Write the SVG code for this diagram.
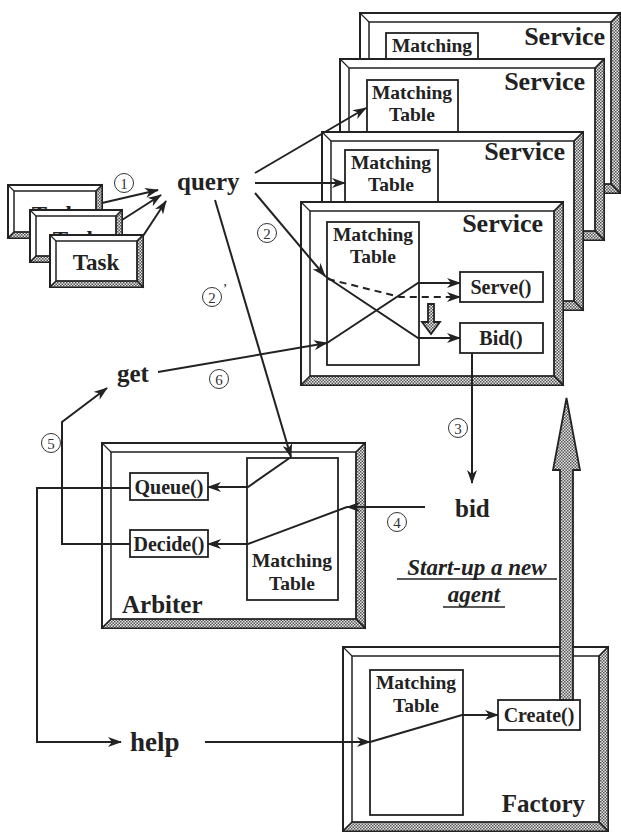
<svg xmlns="http://www.w3.org/2000/svg" width="621" height="832" viewBox="0 0 621 832">
<style>
.outer{fill:#fff;stroke:#222;stroke-width:2}
.band{fill:url(#hatch);stroke:#222;stroke-width:1.2}
.inner{fill:none;stroke:#222;stroke-width:1.5}
.bevel{fill:none;stroke:#222;stroke-width:1.2}
.box{fill:#fff;stroke:#222;stroke-width:1.8}
.t{font-family:"Liberation Serif","Times New Roman",serif;font-weight:bold;fill:#222}
.title{font-size:26px}
.mt{font-size:19.5px;text-anchor:middle}
.fn{font-size:20px;text-anchor:middle}
.ev{font-size:25px}
.conn{fill:none;stroke:#222;stroke-width:2}
.arr{marker-end:url(#ah)}
.dash{stroke-dasharray:7 5}
.num circle{fill:#fff;stroke:#333;stroke-width:1}
.num text{font-family:"Liberation Serif",serif;font-size:15px;fill:#333;text-anchor:middle}
.big{fill:url(#hatch);stroke:#222;stroke-width:1.8}
</style>
<defs>
<pattern id="hatch" width="3" height="3" patternUnits="userSpaceOnUse">
<rect width="3" height="3" fill="#e6e6e6"/>
<rect width="1.5" height="1.5" fill="#555"/>
<rect x="1.5" y="1.5" width="1.5" height="1.5" fill="#555"/>
</pattern>
<marker id="ah" viewBox="0 0 14 10" refX="13" refY="5" markerWidth="14" markerHeight="10" markerUnits="userSpaceOnUse" orient="auto">
<path d="M0,0 L14,5 L0,10 L4,5 z" fill="#222"/>
</marker>
</defs>
<rect width="621" height="832" fill="#fff"/>

<g id="service1">
<rect class="outer" x="360" y="13" width="260" height="180"/>
<polygon class="band" points="620,13 620,193 611,184 611,22"/>
<polygon class="band" points="360,193 620,193 611,184 369,184"/>
<rect class="inner" x="369" y="22" width="242" height="162"/>
<path class="bevel" d="M360,13L369,22M620,13L611,22M360,193L369,184M620,193L611,184"/>
<rect class="box" x="386" y="33" width="92" height="70"/>
<text class="t mt" x="432" y="52">Matching</text>
<text class="t title" x="605" y="45" text-anchor="end">Service</text>
</g>

<g id="service2">
<rect class="outer" x="340" y="59" width="264" height="181"/>
<polygon class="band" points="604,59 604,240 595,231 595,68"/>
<polygon class="band" points="340,240 604,240 595,231 349,231"/>
<rect class="inner" x="349" y="68" width="246" height="163"/>
<path class="bevel" d="M340,59L349,68M604,59L595,68M340,240L349,231M604,240L595,231"/>
<rect class="box" x="367" y="80" width="91" height="80"/>
<text class="t mt" x="412" y="99">Matching</text>
<text class="t mt" x="412" y="121">Table</text>
<text class="t title" x="585" y="90" text-anchor="end">Service</text>
</g>

<g id="service3">
<rect class="outer" x="322" y="132" width="261" height="178"/>
<polygon class="band" points="583,132 583,310 574,301 574,141"/>
<polygon class="band" points="322,310 583,310 574,301 331,301"/>
<rect class="inner" x="331" y="141" width="243" height="160"/>
<path class="bevel" d="M322,132L331,141M583,132L574,141M322,310L331,301M583,310L574,301"/>
<rect class="box" x="345" y="150" width="93" height="80"/>
<text class="t mt" x="391" y="169">Matching</text>
<text class="t mt" x="391" y="191">Table</text>
<text class="t title" x="565" y="160" text-anchor="end">Service</text>
</g>

<g id="service4">
<rect class="outer" x="301" y="202" width="262" height="183"/>
<polygon class="band" points="563,202 563,385 554,376 554,211"/>
<polygon class="band" points="301,385 563,385 554,376 310,376"/>
<rect class="inner" x="310" y="211" width="244" height="165"/>
<path class="bevel" d="M301,202L310,211M563,202L554,211M301,385L310,376M563,385L554,376"/>
<rect class="box" x="327" y="222" width="92" height="143"/>
<text class="t mt" x="373" y="241">Matching</text>
<text class="t mt" x="373" y="263">Table</text>
<text class="t title" x="543" y="232" text-anchor="end">Service</text>
<rect class="box" x="460" y="272" width="83" height="30"/>
<text class="t fn" x="501" y="294">Serve()</text>
<rect class="box" x="460" y="323" width="83" height="30"/>
<text class="t fn" x="501" y="345">Bid()</text>
<polygon class="big" points="428,304 434,304 434,322 440,322 431,334 422,322 428,322"/>
</g>

<g id="task1">
<rect class="outer" x="8" y="185" width="94" height="53"/>
<polygon class="band" points="102,185 102,238 96,232 96,191"/>
<polygon class="band" points="8,238 102,238 96,232 14,232"/>
<rect class="inner" x="14" y="191" width="82" height="41"/>
<path class="bevel" d="M8,185L14,191M102,185L96,191M8,238L14,232M102,238L96,232"/>
<text class="t" font-size="23" x="55" y="222" text-anchor="middle">Task</text>
</g>
<g id="task2">
<rect class="outer" x="30" y="210" width="92" height="52"/>
<polygon class="band" points="122,210 122,262 116,256 116,216"/>
<polygon class="band" points="30,262 122,262 116,256 36,256"/>
<rect class="inner" x="36" y="216" width="80" height="40"/>
<path class="bevel" d="M30,210L36,216M122,210L116,216M30,262L36,256M122,262L116,256"/>
<text class="t" font-size="23" x="76" y="247" text-anchor="middle">Task</text>
</g>
<g id="task3">
<rect class="outer" x="50" y="235" width="93" height="52"/>
<polygon class="band" points="143,235 143,287 137,281 137,241"/>
<polygon class="band" points="50,287 143,287 137,281 56,281"/>
<rect class="inner" x="56" y="241" width="81" height="40"/>
<path class="bevel" d="M50,235L56,241M143,235L137,241M50,287L56,281M143,287L137,281"/>
<text class="t" font-size="23" x="96" y="270" text-anchor="middle">Task</text>
</g>

<g id="arbiter">
<rect class="outer" x="102" y="443" width="263" height="185"/>
<polygon class="band" points="365,443 365,628 356,619 356,452"/>
<polygon class="band" points="102,628 365,628 356,619 111,619"/>
<rect class="inner" x="111" y="452" width="245" height="167"/>
<path class="bevel" d="M102,443L111,452M365,443L356,452M102,628L111,619M365,628L356,619"/>
<rect class="box" x="247" y="458" width="91" height="142"/>
<text class="t mt" x="292" y="567">Matching</text>
<text class="t mt" x="292" y="590">Table</text>
<rect class="box" x="130" y="473" width="78" height="27"/>
<text class="t fn" x="169" y="494">Queue()</text>
<rect class="box" x="130" y="530" width="78" height="27"/>
<text class="t fn" x="169" y="551">Decide()</text>
<text class="t" font-size="25" x="122" y="613">Arbiter</text>
</g>

<g id="factory">
<rect class="outer" x="343" y="647" width="265" height="184"/>
<polygon class="band" points="608,647 608,831 599,822 599,656"/>
<polygon class="band" points="343,831 608,831 599,822 352,822"/>
<rect class="inner" x="352" y="656" width="247" height="166"/>
<path class="bevel" d="M343,647L352,656M608,647L599,656M343,831L352,822M608,831L599,822"/>
<rect class="box" x="370" y="670" width="93" height="145"/>
<text class="t mt" x="416" y="689">Matching</text>
<text class="t mt" x="416" y="712">Table</text>
<rect class="box" x="498" y="700" width="82" height="30"/>
<text class="t fn" x="539" y="722">Create()</text>
<text class="t" font-size="25" x="585" y="812" text-anchor="end">Factory</text>
</g>

<g id="query"><text class="t ev" x="177" y="190">query</text></g>
<g id="get"><text class="t ev" x="117" y="382">get</text></g>
<g id="bid"><text class="t ev" x="455" y="517">bid</text></g>
<g id="help"><text class="t" font-size="27" x="130" y="751">help</text></g>
<g id="startup">
<text class="t" font-style="italic" font-size="23" x="477" y="575" text-anchor="middle">Start-up a new</text>
<line x1="397" y1="579" x2="557" y2="579" stroke="#222" stroke-width="1.3"/>
<text class="t" font-style="italic" font-size="23" x="474" y="602" text-anchor="middle">agent</text>
<line x1="443" y1="607" x2="505" y2="607" stroke="#222" stroke-width="1.3"/>
</g>

<g id="connectors">
<line class="conn arr" x1="102" y1="203" x2="158" y2="190"/>
<line class="conn arr" x1="122" y1="220" x2="161" y2="195"/>
<line class="conn arr" x1="143" y1="236" x2="166" y2="201"/>
<line class="conn arr" x1="255" y1="173" x2="366" y2="108"/>
<line class="conn arr" x1="255" y1="183" x2="345" y2="183"/>
<line class="conn arr" x1="255" y1="193" x2="325" y2="276"/>
<polyline class="conn arr" points="325,276 418,338 460,338"/>
<polyline class="conn dash arr" points="328,279 400,297 460,297"/>
<line class="conn arr" x1="158" y1="372" x2="327" y2="343"/>
<polyline class="conn arr" points="327,343 418,283 460,283"/>
<line class="conn arr" x1="215" y1="200" x2="291" y2="457"/>
<polyline class="conn arr" points="291,457 248,487 208,487"/>
<line class="conn arr" x1="472" y1="353" x2="472" y2="483"/>
<polyline class="conn arr" points="425,507 347,507"/>
<polyline class="conn arr" points="347,507 248,544 208,544"/>
<polyline class="conn arr" points="130,544 62,544 62,422 107,388"/>
<polyline class="conn arr" points="130,488 37,488 37,742 121,742"/>
<line class="conn arr" x1="205" y1="742" x2="370" y2="742"/>
<polyline class="conn arr" points="370,742 462,715 498,715"/>
<polygon class="big" points="560,700 560,470 553,470 566.5,398 580,470 573,470 573,700"/>
<g class="num">
<circle cx="124" cy="183" r="9.5"/><text x="124" y="188.5">1</text>
<circle cx="267" cy="233" r="9.5"/><text x="267" y="238.5">2</text>
<circle cx="212" cy="297" r="9.5"/><text x="212" y="302.5">2</text>
<text x="225" y="294" font-size="17">’</text>
<circle cx="458" cy="428" r="9.5"/><text x="458" y="433.5">3</text>
<circle cx="397" cy="522" r="9.5"/><text x="397" y="527.5">4</text>
<circle cx="51" cy="443" r="9.5"/><text x="51" y="448.5">5</text>
<circle cx="219" cy="379" r="9.5"/><text x="219" y="384.5">6</text>
</g>
</g>
</svg>
